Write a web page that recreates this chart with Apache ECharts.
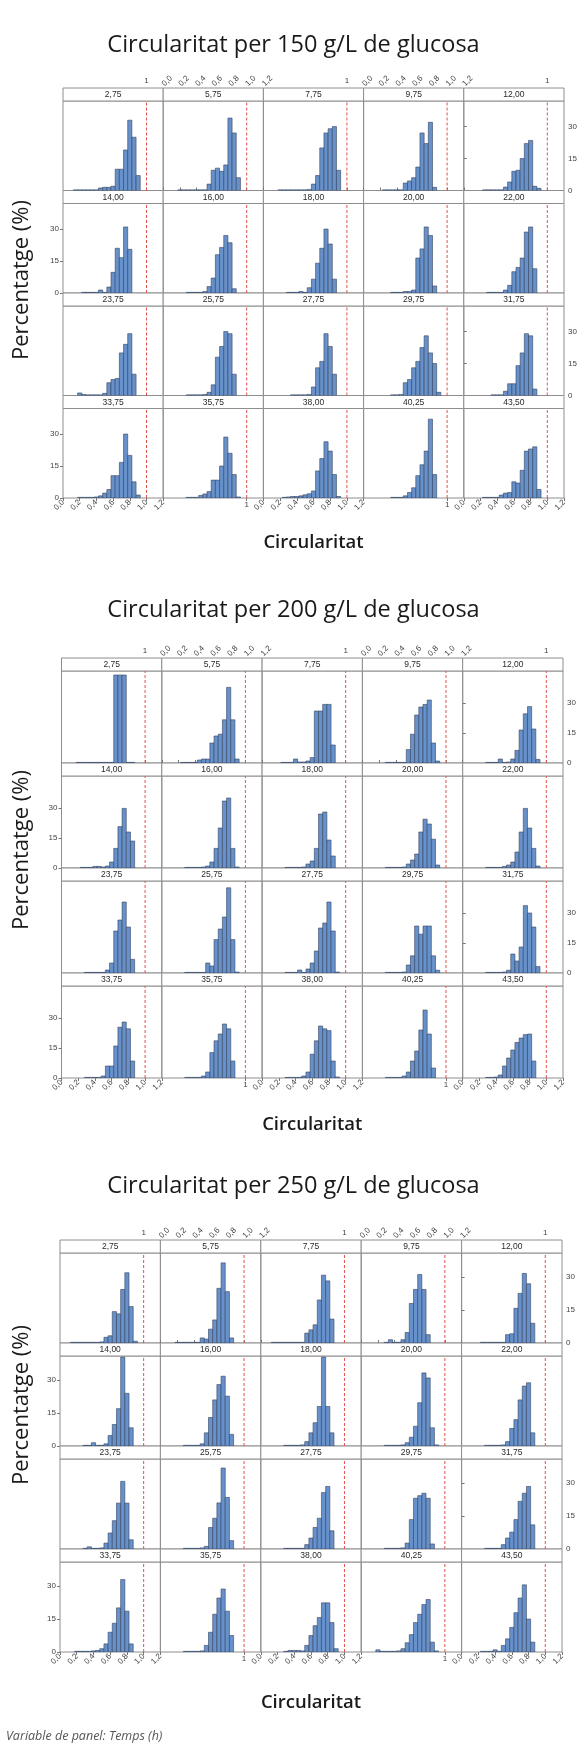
<!DOCTYPE html>
<html>
<head>
<meta charset="utf-8">
<script src="https://cdn.jsdelivr.net/npm/echarts@6/dist/echarts.min.js"></script>
<style>
html,body{margin:0;padding:0;background:#ffffff;}
#chart{width:587px;height:1746px;}
</style>
</head>
<body>
<div id="chart"></div>
<script>
// Histogram bins: midpoints of circularity classes, width 0.05
const binMids = [0.10,0.15,0.20,0.25,0.30,0.35,0.40,0.45,0.50,0.55,0.60,0.65,0.70,0.75,0.80,0.85,0.90,0.95];
const binWidth = 0.05;

// Panel labels: sampling time (h)
const panelTimes = ['2,75','5,75','7,75','9,75','12,00','14,00','16,00','18,00','20,00','22,00',
                    '23,75','25,75','27,75','29,75','31,75','33,75','35,75','38,00','40,25','43,50'];

// Axis ticks
const xTicks = [0,0.2,0.4,0.6,0.8,1.0,1.2];
const yTicks = [0,15,30];
const refCircularity = 1;

// Percentage of cells per circularity bin, 150 g/L glucose
const pct150 = [
  [0,0.3,0.3,0.3,0.3,0.3,0.3,1.2,1.5,1.5,2,10,10,19,33,25,7,0],
  [0,0,0.3,0.3,0.3,0.3,0.3,0.3,0.3,3,9.5,10.5,9,12,34,27,6,0],
  [0,0,0.3,0.3,0.3,0.3,0.3,0.3,0.3,0.5,3,7,20,27,29,30,9.5,0],
  [0,0,0,0.3,0.3,0.3,0.3,0.3,3.5,4.5,6,11,27,22,32,1.5,0,0],
  [0,0,0,0.3,0.3,0.3,0.3,0.3,1.6,4,9,9.5,15,22,23.5,2,1,0],
  [0,0,0,0.3,0.3,0.3,0.3,1.4,0.3,2.8,9.7,21,16.6,31,20.5,0,0,0],
  [0,0,0,0,0.3,0.3,0.3,0.3,0.7,3,7,18,21.4,27,23.6,2,0,0],
  [0,0,0,0,0.3,0.3,0.3,0.7,0.3,2.5,6.5,14,21,30,23,6.5,0,0],
  [0,0,0,0,0,0.3,0.3,0.3,0.7,0.7,1.4,16.4,20.7,31,27,3.3,0,0],
  [0,0,0,0,0.3,0.3,0.3,0.3,1.4,3.6,10,12,16.4,28.6,31,11.4,0,0],
  [0,0,1.2,0.5,0.3,0.3,0.3,0.3,1,6,7.5,8,20,24,29,10,0,0],
  [0,0,0,0,0.3,0.3,0.3,0.3,0.5,1.5,5,18,23,30,29,10,0,0],
  [0,0,0,0,0,0.3,0.3,0.3,0.3,0.5,4,13,16,29,23,10,0,0],
  [0,0,0,0,0,0.3,0.3,0.5,6,7.5,13,16,22.5,28,20,15,1.5,0],
  [0,0,0,0,0,0.3,0.3,0.3,2,5.5,5.5,14,20,29,28,3,0,0],
  [0,0,0.3,0.3,0.3,0.3,0.5,1,2.3,4,10.5,10.5,16.7,30,20,7.6,1.4,0],
  [0,0,0,0,0.3,0.3,0.3,1.2,1.9,3,8.4,8.4,15,28.6,21,11,0.5,0],
  [0,0,0,0.3,0.5,0.7,0.7,1,1.5,2,3.3,12.7,18.5,26.4,22,11,0.7,0],
  [0,0,0,0,0,0.3,0.3,0.3,1,2.6,4.8,10.5,15.6,22,37,11,0,0],
  [0,0,0,0.3,0.3,0.3,0.3,1.4,2.3,2.6,7.6,7,13,22,23,24,4,0]
];

// Percentage of cells per circularity bin, 200 g/L glucose
const pct200 = [
  [0,0,0.3,0.3,0.3,0.3,0.3,0.3,0.3,0.3,0.3,44,44,44,0.3,0.3,0,0],
  [0,0,0,0.3,0.3,0.3,0.3,1.5,2,2,10,13.5,14.4,21.6,37.8,21.6,2,0],
  [0,0,0,0.3,0.3,0.3,2,0.5,0.5,1,2.7,26,26,29.3,29.3,9,0,0],
  [0,0,0,0,0.3,0.3,0.3,0.3,0.3,6.7,14.4,24,28,29.3,31.5,10,1,0],
  [0,0,0,0,0.3,0.3,0.3,2,0.3,0.5,2,6.3,16.5,24.6,28.2,17,1.8,0],
  [0,0,0,0.3,0.3,0.3,0.8,0.8,0.5,1,3,9.8,20.7,29.8,18,13.5,0,0],
  [0,0,0,0,0.3,0.3,0.3,0.3,0.5,1,3,9.8,20,33.5,35,9.8,0.5,0],
  [0,0,0,0,0.3,0.3,0.3,0.3,0.5,2,3.5,9.8,27,28,14,6,0,0],
  [0,0,0,0,0.3,0.3,0.3,0.3,0.5,2,4,7,18,24.4,22,14.4,1.5,0],
  [0,0,0,0,0.3,0.3,0.3,0.3,0.8,1.5,3,8,18,29.8,20,9.8,1,0],
  [0,0,0,0,0.3,0.3,0.3,0.3,0.3,1.5,5,21,26.5,35.5,23,6.8,0,0],
  [0,0,0,0,0.3,0.3,0.3,0.3,0.3,5,3.5,16.7,22,28,42.6,16.7,0.5,0],
  [0,0,0,0,0.3,0.3,0.3,1.5,0.3,2,5,11,22.5,25,35.5,21,0.5,0],
  [0,0,0,0,0.3,0.3,0.3,0.3,0.5,4,8.6,23.5,19.4,23.5,23.5,8.6,1.4,0],
  [0,0,0,0,0.3,0.3,0.3,0.3,0.5,1.4,9.5,6,13,33.7,30,23,3.2,0],
  [0,0,0,0,0.3,0.3,0.3,0.3,1,6,6,16,25.4,28,24.6,8.5,0,0],
  [0,0,0,0,0.3,0.3,0.3,0.3,1,3,12.7,18.6,22,27,24.6,8.5,0,0],
  [0,0,0,0,0.3,0.3,0.3,0.3,1,3,11.9,18.6,26,24.6,23.7,8.5,0.5,0],
  [0,0,0,0,0.3,0.3,0.3,0.3,1,3,8.5,13.5,24,34,22,5,0,0],
  [0,0,0,0,0.3,0.3,0.5,1.5,6,10,14,17.8,20,21.7,22,8.5,0,0]
];

// Percentage of cells per circularity bin, 250 g/L glucose
const pct250 = [
  [0,0.3,0.3,0.3,0.3,0.3,0.3,0.3,0.5,2.6,3.3,14.3,13.3,24.4,32,16.6,0.8,0],
  [0,0,0.3,0.3,0.3,0.3,0.3,0.3,2.3,1.8,6.3,10.5,24.9,36.5,23.4,2.3,0,0],
  [0,0.3,0.3,0.3,0.3,0.3,0.3,0.3,0.3,4.5,6,8.3,19.6,30.9,28.3,10.9,0,0],
  [0,0,0,0,0.3,1.5,0.3,0.3,1.5,4.8,18,24.4,31.2,24.4,3.8,0,0,0],
  [0,0,0,0.3,0.3,0.3,0.3,0.3,0.3,3.8,4.2,15.8,22.6,31.7,27,9,0,0],
  [0,0,0,0,0.3,0.3,1.5,0.3,0.3,1,4.8,9.8,17,40.5,24,8.3,0,0],
  [0,0,0,0,0.3,0.3,0.3,0.3,1,6,13,21,28,31.8,22.7,5.3,0,0],
  [0,0,0,0,0.3,0.3,0.3,0.3,0.5,2,6,10.6,18,40.5,18,6,0,0],
  [0,0,0,0,0.3,0.3,0.3,0.3,0.5,1.5,4,9,19.7,33.3,31,8.3,0.5,0],
  [0,0,0,0,0.3,0.3,0.3,0.3,0.5,2,8,12,21,27.3,28.8,6,0,0],
  [0,0,0,0,0.3,1,0.3,0.3,0.5,2.7,7.3,12.9,20.9,30.8,20.9,4.2,0,0],
  [0,0,0,0,0.3,0.3,0.3,0.3,0.5,1.2,9.8,14,21,36.9,23.5,3.8,0,0],
  [0,0,0,0,0.3,0.3,0.3,0.3,0.3,2,5,9.8,14,25.7,28.5,8.3,0,0],
  [0,0,0,0,0.3,0.3,0.3,0.3,0.5,2.7,13.4,23.1,24.3,25.4,23.1,2.3,0,0],
  [0,0,0,0,0.3,0.3,0.3,0.3,2,5,7.7,13.4,21.7,25.4,28.5,11,0,0],
  [0,0,0.3,0.3,0.3,0.3,0.5,0.7,1.5,3.7,9,13.1,20.1,33,18.6,3.7,0,0],
  [0,0,0,0,0.3,0.3,0.3,0.3,0.5,3,9,17.2,24.6,28.7,18.6,7.5,0,0],
  [0,0,0,0,0.3,0.7,0.7,0.7,0.5,3,7.5,12,15.7,22.4,22.4,13.4,1.5,0],
  [0,0,1,0.3,0.3,0.3,0.3,0.5,1.5,4.2,7.9,13.4,17.2,21.6,23.9,4.5,0.5,0],
  [0,0,0,0.3,0.3,0.3,1,0.3,3,6,11.2,17.9,24.6,30.6,15,4.5,0,0]
];

const figTitles = ['Circularitat per 150 g/L de glucosa',
                   'Circularitat per 200 g/L de glucosa',
                   'Circularitat per 250 g/L de glucosa'];

// Page layout of the three panel figures (pixels)
const figLayout = [
  {data: pct150, yMax: 42, titleY: 45,   left: 63,   right: 564, top: 88,   pitch: 102.5, yTitleY: 280,  xTitleY: 543},
  {data: pct200, yMax: 46, titleY: 610,  left: 61.5, right: 563, top: 658,  pitch: 105,   yTitleY: 850,  xTitleY: 1125},
  {data: pct250, yMax: 41, titleY: 1186, left: 60,   right: 562, top: 1240, pitch: 103,   yTitleY: 1405, xTitleY: 1703}
];
const STRIP_H = 13;
const BAR_FILL = '#6791cb';
const BAR_EDGE = '#36435e';
const FRAME = '#8e8e8e';
const TICK_FONT = 'Liberation Sans, DejaVu Sans, sans-serif';
const TEXT_FONT = '"Open Sans", "Noto Sans", sans-serif';

const fmtComma = v => (Math.round(v * 10) / 10).toFixed(1).replace('.', ',');

const grids = [], xAxes = [], yAxes = [], series = [], graphics = [];

function textEl(x, y, text, font, fill, extra) {
  return Object.assign({
    type: 'text', x: x, y: y, silent: true,
    style: {text: text, font: font, fill: fill,
            align: 'center', verticalAlign: 'middle',
            textAlign: 'center', textVerticalAlign: 'middle'}
  }, extra || {});
}

figLayout.forEach((fig, f) => {
  const colW = (fig.right - fig.left) / 5;
  const plotH = fig.pitch - STRIP_H;
  const centerX = (fig.left + fig.right) / 2;

  graphics.push(textEl(293.5, fig.titleY, figTitles[f], '23.5px ' + TEXT_FONT, '#1a1a1a'));
  graphics.push(textEl(22, fig.yTitleY, 'Percentatge (%)', '22px ' + TEXT_FONT, '#1a1a1a',
                       {rotation: Math.PI / 2}));
  graphics.push(textEl(centerX, fig.xTitleY, 'Circularitat', '600 18.5px ' + TEXT_FONT, '#1a1a1a'));

  panelTimes.forEach((lab, p) => {
    const r = Math.floor(p / 5), c = p % 5;
    const g = grids.length;
    const gx = fig.left + c * colW;
    const gy = fig.top + r * fig.pitch;

    // strip with the panel time
    graphics.push({type: 'rect', silent: true, z: 1,
      shape: {x: gx, y: gy, width: colW, height: STRIP_H},
      style: {fill: '#ffffff', stroke: FRAME, lineWidth: 1}});
    graphics.push(textEl(gx + colW / 2, gy + STRIP_H / 2 + 0.5, lab, '8.5px ' + TICK_FONT, '#2a2a2a', {z: 2}));

    grids.push({left: gx, top: gy + STRIP_H, width: colW, height: plotH,
                show: true, borderColor: FRAME, borderWidth: 1, backgroundColor: 'transparent'});

    // x axis: full scale on alternate outer edges, reference value on the others;
    // top axes sit above the strip
    let xa = {gridIndex: g, type: 'value', min: 0, max: 1.2, interval: 0.2,
              axisLine: {show: false}, splitLine: {show: false},
              axisTick: {show: false}, axisLabel: {show: false}};
    const fullTop = (r === 0 && c % 2 === 1), fullBottom = (r === 3 && c % 2 === 0);
    const refTop = (r === 0 && c % 2 === 0), refBottom = (r === 3 && c % 2 === 1);
    if (fullTop || fullBottom) {
      xa.position = fullTop ? 'top' : 'bottom';
      xa.offset = fullTop ? STRIP_H : 0;
      xa.axisTick = {show: true, length: 3, inside: false, customValues: xTicks, lineStyle: {color: '#777'}};
      xa.axisLabel = {show: true, customValues: xTicks, rotate: 45, fontSize: 8, margin: 3,
                      color: '#444', fontFamily: TICK_FONT, formatter: fmtComma};
    } else if (refTop || refBottom) {
      xa.position = refTop ? 'top' : 'bottom';
      xa.offset = refTop ? STRIP_H : 0;
      xa.axisTick = {show: true, length: 3, customValues: [refCircularity], lineStyle: {color: '#777'}};
      xa.axisLabel = {show: true, customValues: [refCircularity], fontSize: 8, margin: 3,
                      color: '#444', fontFamily: TICK_FONT, formatter: () => '1'};
    }
    xAxes.push(xa);

    // y axis: right side on rows 1 and 3, left side on rows 2 and 4
    let ya = {gridIndex: g, type: 'value', min: 0, max: fig.yMax,
              axisLine: {show: false}, splitLine: {show: false},
              axisTick: {show: false}, axisLabel: {show: false}};
    const yRight = (r % 2 === 0 && c === 4), yLeft = (r % 2 === 1 && c === 0);
    if (yRight || yLeft) {
      ya.position = yRight ? 'right' : 'left';
      ya.axisTick = {show: true, length: 3, customValues: yTicks, lineStyle: {color: '#777'}};
      ya.axisLabel = {show: true, customValues: yTicks, fontSize: 8, margin: 4,
                      color: '#444', fontFamily: TICK_FONT};
    }
    yAxes.push(ya);

    const vals = fig.data[p];
    series.push({
      type: 'custom', xAxisIndex: g, yAxisIndex: g, silent: true, clip: true,
      data: binMids.map((m, i) => [m, vals[i]]).filter(d => d[1] > 0),
      renderItem: (params, api) => {
        const m = api.value(0), v = api.value(1);
        const a = api.coord([m - binWidth / 2, 0]);
        const b = api.coord([m + binWidth / 2, v]);
        return {type: 'rect',
                shape: {x: a[0], y: b[1], width: b[0] - a[0], height: a[1] - b[1]},
                style: {fill: BAR_FILL, stroke: BAR_EDGE, lineWidth: 0.6}};
      }
    });
    series.push({
      type: 'line', xAxisIndex: g, yAxisIndex: g, silent: true, symbol: 'none',
      data: [[refCircularity, 0], [refCircularity, fig.yMax]],
      lineStyle: {color: '#e2524c', width: 1, type: [3, 2]}
    });
  });
});

graphics.push({type: 'text', x: 6, y: 1736, silent: true,
  style: {text: 'Variable de panel: Temps (h)', font: 'italic 12.5px ' + TEXT_FONT,
          fill: '#555', align: 'left', verticalAlign: 'middle', textAlign: 'left', textVerticalAlign: 'middle'}});

const chart = echarts.init(document.getElementById('chart'), null, {renderer: 'canvas'});
chart.setOption({
  animation: false,
  backgroundColor: '#ffffff',
  grid: grids,
  xAxis: xAxes,
  yAxis: yAxes,
  series: series,
  graphic: {elements: graphics}
});
</script>
</body>
</html>
